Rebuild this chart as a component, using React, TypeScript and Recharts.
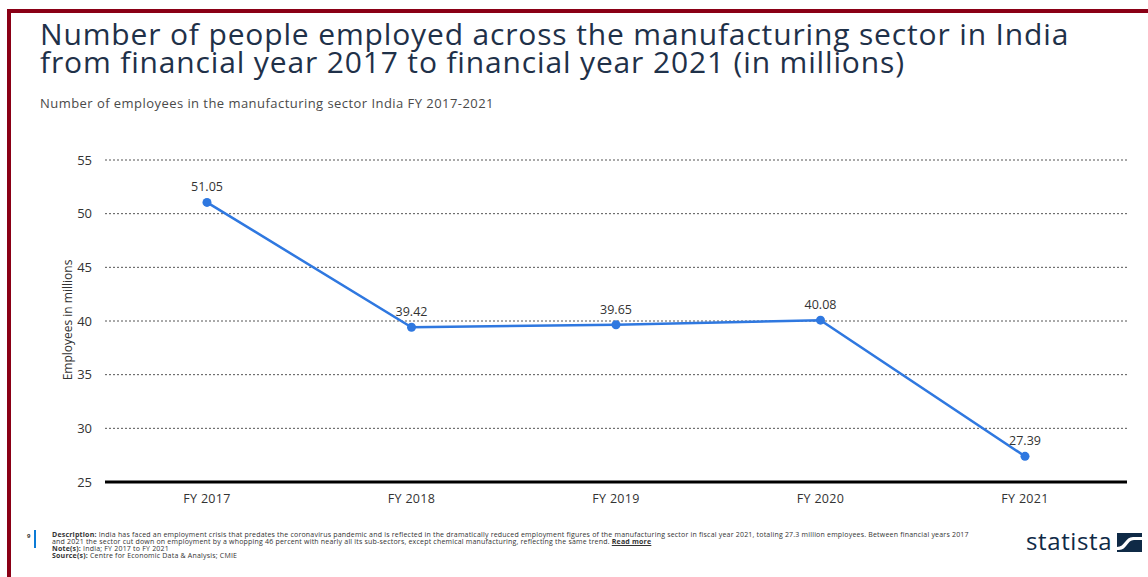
import React from 'react';
import { LineChart, Line, XAxis, YAxis, CartesianGrid, LabelList } from 'recharts';

const years = ['FY 2017', 'FY 2018', 'FY 2019', 'FY 2020', 'FY 2021'];
const employees = [51.05, 39.42, 39.65, 40.08, 27.39];
const yTicks = [25, 30, 35, 40, 45, 50, 55];

const data = years.map((year, i) => ({ year, value: employees[i] }));

const FONT = "'Open Sans', 'Noto Sans', sans-serif";
const BORDER = '#8a0016';

function StatistaLogo() {
  return (
    <div style={{ position: 'absolute', left: 1026, top: 524, display: 'flex', alignItems: 'center' }}>
      <span style={{ fontFamily: FONT, fontSize: 24, color: '#0f2a46', letterSpacing: 0.6, fontWeight: 500 }}>statista</span>
      <svg width={25} height={19} style={{ marginLeft: 5, marginTop: 3 }}>
        <rect x={0} y={0} width={25} height={19} fill="#0f2a46" />
        <path d="M0 14 C8 14 8 4 16 4 L25 4 L25 7 L17 7 C10 7 10 17 2 17 L0 17 Z" fill="#ffffff" />
      </svg>
    </div>
  );
}

export default function App() {
  const footText: React.CSSProperties = { fontSize: 7, lineHeight: '7px', height: 7, whiteSpace: 'nowrap', color: '#333', letterSpacing: 0.2 };
  const titleLine: React.CSSProperties = { fontSize: 30, letterSpacing: 0.85, lineHeight: '28px', height: 28, color: '#1f3149', whiteSpace: 'nowrap' };
  return (
    <div style={{ position: 'absolute', left: 0, top: 0, width: 1148, height: 577, background: '#fff', overflow: 'hidden', fontFamily: FONT }}>
      <div style={{ position: 'absolute', left: 7, top: 9, width: 1141, height: 4, background: BORDER }} />
      <div style={{ position: 'absolute', left: 7, top: 9, width: 4, height: 568, background: BORDER }} />

      <div style={{ position: 'absolute', left: 40, top: 20 }}>
        <div style={titleLine}>Number of people employed across the manufacturing sector in India</div>
        <div style={titleLine}>from financial year 2017 to financial year 2021 (in millions)</div>
      </div>
      <div style={{ position: 'absolute', left: 40, top: 94, fontSize: 13, letterSpacing: 0.45, color: '#4a4a4a', whiteSpace: 'nowrap' }}>
        Number of employees in the manufacturing sector India FY 2017-2021
      </div>

      <div style={{ position: 'absolute', left: 0, top: 0 }}>
        <LineChart width={1148} height={577} data={data} margin={{ top: 160, right: 21, bottom: 65, left: 0 }}>
          <CartesianGrid vertical={false} stroke="#555" strokeDasharray="2 2" />
          <XAxis
            dataKey="year"
            height={30}
            padding={{ left: 102, right: 102 }}
            tickLine={false}
            tickMargin={6}
            axisLine={{ stroke: '#000', strokeWidth: 3 }}
            tick={{ fontSize: 12.5, fill: '#333', fontFamily: FONT, letterSpacing: 0.3 }}
          />
          <YAxis
            width={105}
            domain={[25, 55]}
            ticks={yTicks}
            axisLine={false}
            tickLine={false}
            tickMargin={7}
            tick={{ fontSize: 13, fill: '#333', fontFamily: FONT }}
          />
          <Line
            type="linear"
            dataKey="value"
            stroke="#2f78e0"
            strokeWidth={2.5}
            dot={{ r: 4.5, fill: '#2f78e0', stroke: 'none' }}
            isAnimationActive={false}
          >
            <LabelList dataKey="value" position="top" offset={11} style={{ fontSize: 12.5, fill: '#333', fontFamily: FONT }} formatter={(v: number) => v.toFixed(2)} />
          </Line>
        </LineChart>
      </div>

      <div style={{ position: 'absolute', left: 67, top: 320, transform: 'translate(-50%, -50%) rotate(-90deg)', fontSize: 12, color: '#333', whiteSpace: 'nowrap' }}>
        Employees in millions
      </div>

      <div style={{ position: 'absolute', left: 27, top: 532, fontSize: 6, fontWeight: 700, color: '#333' }}>9</div>
      <div style={{ position: 'absolute', left: 34, top: 530, width: 2, height: 18, background: '#0b7bd6' }} />
      <div style={{ position: 'absolute', left: 52, top: 531 }}>
        <div style={footText}>
          <b>Description:</b> India has faced an employment crisis that predates the coronavirus pandemic and is reflected in the dramatically reduced employment figures of the manufacturing sector in fiscal year 2021, totaling 27.3 million employees. Between financial years 2017
        </div>
        <div style={footText}>
          and 2021 the sector cut down on employment by a whopping 46 percent with nearly all its sub-sectors, except chemical manufacturing, reflecting the same trend. <b style={{ textDecoration: 'underline' }}>Read more</b>
        </div>
        <div style={footText}>
          <b>Note(s):</b> India; FY 2017 to FY 2021
        </div>
        <div style={footText}>
          <b>Source(s):</b> Centre for Economic Data &amp; Analysis; CMIE
        </div>
      </div>

      <StatistaLogo />
    </div>
  );
}
